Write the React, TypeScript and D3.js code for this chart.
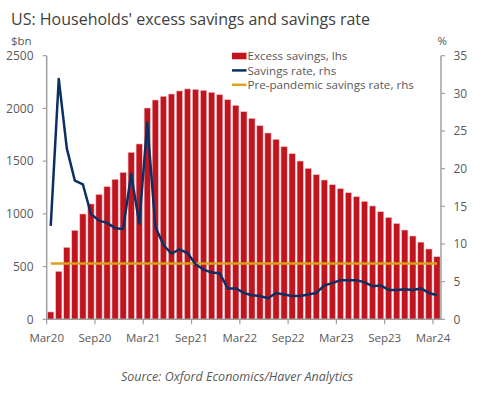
import React from "react";
import * as d3 from "d3";

const title = "US: Households' excess savings and savings rate";
const source = "Source: Oxford Economics/Haver Analytics";

// Monthly categories Mar 2020 .. Mar 2024
const months: Date[] = d3.timeMonth.range(new Date(2020, 2, 1), new Date(2024, 3, 1));

// Excess savings, $bn (lhs)
const excessSavings = [
  70, 455, 683, 844, 999, 1094, 1185, 1258, 1328, 1394,
  1584, 1663, 2004, 2080, 2115, 2137, 2166, 2185, 2181, 2172,
  2153, 2130, 2083, 2029, 1969, 1906, 1836, 1767, 1707, 1637,
  1571, 1501, 1432, 1372, 1321, 1277, 1239, 1201, 1163, 1119,
  1075, 1021, 966, 909, 847, 790, 732, 667, 594,
];

// Savings rate, % (rhs)
const savingsRate = [
  12.4, 31.9, 22.7, 18.4, 17.9, 14.0, 13.1, 12.8, 12.1, 12.0,
  19.3, 12.7, 26.1, 12.3, 9.9, 8.7, 9.3, 8.8, 7.3, 6.6,
  6.2, 6.1, 4.1, 4.1, 3.5, 3.2, 3.1, 2.8, 3.5, 3.3,
  3.1, 3.1, 3.3, 3.5, 4.5, 4.8, 5.2, 5.2, 5.2, 4.9,
  4.4, 4.5, 3.9, 3.9, 4.0, 3.9, 4.1, 3.5, 3.2,
];

// Pre-pandemic savings rate, % (rhs)
const prePandemicRate = 7.4;

const leftTicks = [0, 500, 1000, 1500, 2000, 2500];
const rightTicks = [0, 5, 10, 15, 20, 25, 30, 35];
const xTickLabels = ["Mar20", "Sep20", "Mar21", "Sep21", "Mar22", "Sep22", "Mar23", "Sep23", "Mar24"];

const legendItems = [
  { label: "Excess savings, lhs", kind: "rect", color: "#C0141F" },
  { label: "Savings rate, rhs", kind: "line", color: "#0A2F63" },
  { label: "Pre-pandemic savings rate, rhs", kind: "line", color: "#D8A21E" },
];

const RED = "#C0141F";
const NAVY = "#0A2F63";
const GOLD = "#D8A21E";
const AXIS = "#A0A0A0";
const TEXT = "#595959";

export default function App() {
  const W = 484;
  const H = 398;
  const left = 46.7;
  const right = 441;
  const top = 55.7;
  const bottom = 319.3;

  const fmt = d3.timeFormat("%b%y");
  const cats = months.map(fmt);
  const x = d3.scaleBand<string>().domain(cats).range([left, right]).padding(0);
  const yL = d3.scaleLinear().domain([0, 2500]).range([bottom, top]);
  const yR = d3.scaleLinear().domain([0, 35]).range([bottom, top]);
  const bw = x.bandwidth();
  const barW = bw * 0.78;

  const lineGen = d3
    .line<number>()
    .x((_, i) => (x(cats[i]) as number) + bw / 2)
    .y((d) => yR(d));
  const preLine = d3
    .line<string>()
    .x((c) => (x(c) as number) + bw / 2)
    .y(() => yR(prePandemicRate));

  return (
    <svg
      width={W}
      height={H}
      style={{ position: "absolute", left: 0, top: 0, background: "#fff" }}
      fontFamily="'Open Sans', 'Noto Sans', sans-serif"
    >
      <text x={11} y={25} fontSize={16} fill="#404040">
        {title}
      </text>
      <text x={11} y={45} fontSize={11.5} fill={TEXT}>
        $bn
      </text>
      <text x={437.5} y={45} fontSize={11.5} fill={TEXT}>
        %
      </text>

      {/* bars */}
      {excessSavings.map((v, i) => (
        <rect
          key={i}
          x={(x(cats[i]) as number) + (bw - barW) / 2}
          y={yL(v)}
          width={barW}
          height={yL(0) - yL(v)}
          fill={RED}
          stroke="#F2C6C8"
          strokeWidth={0.6}
        />
      ))}

      {/* pre-pandemic line */}
      <path d={preLine(cats) || ""} fill="none" stroke={GOLD} strokeWidth={2.5} />
      {/* savings rate */}
      <path d={lineGen(savingsRate) || ""} fill="none" stroke={NAVY} strokeWidth={2.5} strokeLinejoin="round" />

      {/* axes */}
      <line x1={left} x2={left} y1={top} y2={bottom} stroke={AXIS} strokeWidth={1.5} />
      <line x1={right} x2={right} y1={top} y2={bottom} stroke={AXIS} strokeWidth={1.5} />
      <line x1={left} x2={right} y1={bottom} y2={bottom} stroke={AXIS} strokeWidth={1.5} />

      {leftTicks.map((t) => (
        <g key={"l" + t}>
          <line x1={left - 4} x2={left} y1={yL(t)} y2={yL(t)} stroke={AXIS} strokeWidth={1.2} />
          <text x={33.5} y={yL(t)} dy="0.35em" textAnchor="end" fontSize={12} fill={TEXT}>
            {t}
          </text>
        </g>
      ))}
      {rightTicks.map((t) => (
        <g key={"r" + t}>
          <line x1={right} x2={right + 4} y1={yR(t)} y2={yR(t)} stroke={AXIS} strokeWidth={1.2} />
          <text x={453.5} y={yR(t)} dy="0.35em" fontSize={12} fill={TEXT}>
            {t}
          </text>
        </g>
      ))}
      {xTickLabels.map((lab) => {
        const xp = x(lab) as number;
        return (
          <g key={lab}>
            <line x1={xp} x2={xp} y1={bottom} y2={bottom + 5} stroke={AXIS} strokeWidth={1.2} />
            <text x={xp} y={341.5} textAnchor="middle" fontSize={11.5} fill={TEXT}>
              {lab}
            </text>
          </g>
        );
      })}

      {/* legend */}
      {legendItems.map((it, i) => {
        const cy = 56 + i * 14.4;
        return (
          <g key={it.label}>
            {it.kind === "rect" ? (
              <rect x={232} y={cy - 3.3} width={14.5} height={6.6} fill={it.color} />
            ) : (
              <line x1={232} x2={246.5} y1={cy} y2={cy} stroke={it.color} strokeWidth={2.5} />
            )}
            <text x={247.5} y={cy + 4.2} fontSize={11.6} fill={TEXT}>
              {it.label}
            </text>
          </g>
        );
      })}

      <text x={237} y={381} textAnchor="middle" fontSize={12.5} fontStyle="italic" fill={TEXT}>
        {source}
      </text>
    </svg>
  );
}
